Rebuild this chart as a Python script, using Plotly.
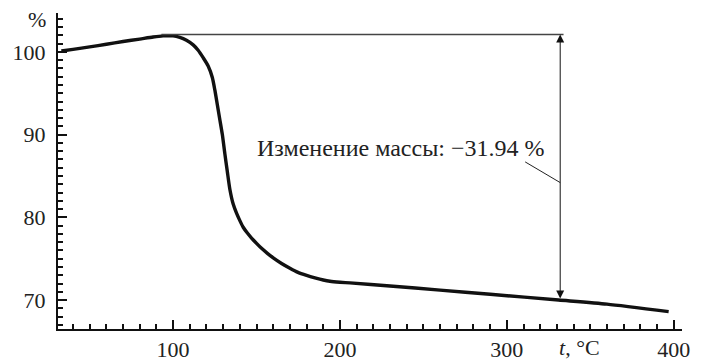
import plotly.graph_objects as go

# Data (temperature, °C ; mass, %)
temperature = [33, 40, 50, 60, 70, 80, 88, 94, 100, 104, 108, 112, 115, 118, 121,
               123.5, 125, 126.5, 128, 129.5, 131, 132.5, 134, 136, 138, 140, 142,
               144.5, 147, 150, 153, 156.5, 160, 165, 170, 174.5, 180, 185, 190,
               194, 200, 206, 230, 260, 290, 331, 360, 397]
mass = [100.1, 100.3, 100.6, 100.92, 101.25, 101.55, 101.8, 101.93, 101.93, 101.75,
        101.4, 100.85, 100.2, 99.3, 98.3, 96.9, 95.4, 93.6, 91.8, 90.0, 87.7, 85.5,
        83.4, 81.6, 80.5, 79.6, 78.8, 78.1, 77.5, 76.85, 76.25, 75.65, 75.1, 74.42,
        73.85, 73.38, 72.98, 72.68, 72.42, 72.27, 72.15, 72.07, 71.7, 71.2, 70.7, 70.0,
        69.5, 68.6]

x_ticks = [100, 200, 300, 400]
y_ticks = [70, 80, 90, 100]

ref_level = 102.1        # horizontal reference line (start mass)
end_level = 70.0         # mass at the measurement temperature
measure_t = 332          # temperature of the double arrow
ref_line_start = 93
label_text = "Изменение массы: −31.94 %"

FONT = "Liberation Serif"

fig = go.Figure()
fig.add_trace(go.Scatter(
    x=temperature, y=mass, mode="lines",
    line=dict(color="#111111", width=3.4, shape="spline", smoothing=0.6),
    hoverinfo="skip", showlegend=False,
))

# horizontal reference line
fig.add_shape(type="line", xref="x", yref="y",
              x0=ref_line_start, x1=measure_t + 2, y0=ref_level, y1=ref_level,
              line=dict(color="#444444", width=1.3))
# leader line from label to arrow
fig.add_shape(type="line", xref="x", yref="y",
              x0=311, y0=86.7, x1=measure_t, y1=84.2,
              line=dict(color="#222222", width=1))

# double-headed arrow
fig.add_annotation(x=measure_t, y=ref_level, ax=measure_t, ay=end_level,
                   xref="x", yref="y", axref="x", ayref="y",
                   text="", showarrow=True, arrowside="end+start",
                   arrowhead=2, arrowsize=1.6, arrowwidth=1, arrowcolor="#111111")

fig.add_annotation(x=236, y=88.4, xref="x", yref="y", text=label_text,
                   showarrow=False, font=dict(family=FONT, size=24, color="#222222"))

fig.add_annotation(x=-0.034, y=0.978, xref="paper", yref="paper", text="%",
                   xanchor="center", yanchor="middle",
                   showarrow=False, font=dict(family=FONT, size=22, color="#222222"))
fig.add_annotation(x=0.835, y=-0.06, xref="paper", yref="paper",
                   text="<i>t</i>, °C", xanchor="center", yanchor="middle",
                   showarrow=False, font=dict(family=FONT, size=22, color="#222222"))

axis_common = dict(showline=True, linewidth=2, linecolor="#111111",
                   ticks="inside", ticklen=9, tickwidth=2, tickcolor="#111111",
                   showgrid=False, zeroline=False, automargin=False,
                   tickfont=dict(family=FONT, size=22, color="#222222"))

fig.update_xaxes(range=[31, 405], tickvals=x_ticks, ticktext=[str(v) for v in x_ticks],
                 minor=dict(dtick=10, tick0=0, ticks="inside", ticklen=5,
                            tickwidth=1.6, tickcolor="#111111", showgrid=False),
                 **axis_common)
fig.update_yaxes(range=[66.5, 104.7], tickvals=y_ticks, ticktext=[str(v) for v in y_ticks],
                 minor=dict(dtick=1, tick0=0, ticks="inside", ticklen=5,
                            tickwidth=1.6, tickcolor="#111111", showgrid=False),
                 ticklabelstandoff=6,
                 **axis_common)

fig.update_layout(width=708, height=363,
                  margin=dict(l=58, r=26, t=13, b=34, autoexpand=False),
                  font=dict(family=FONT, size=22, color="#222222"),
                  paper_bgcolor="white", plot_bgcolor="white",
                  showlegend=False)

fig.write_html("out.html")
